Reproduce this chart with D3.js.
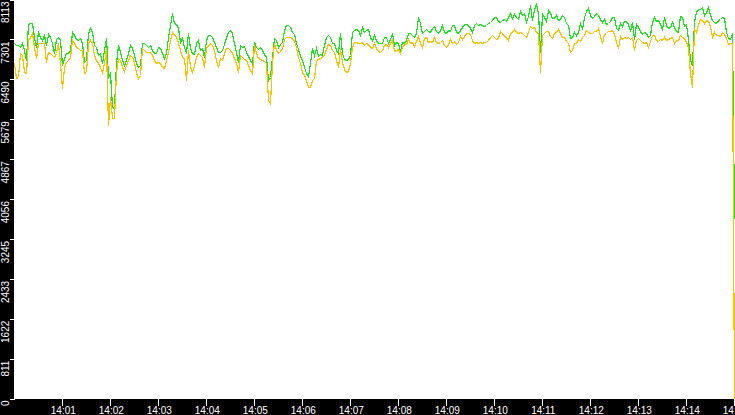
<!DOCTYPE html>
<html>
<head>
<meta charset="utf-8">
<script src="https://cdn.jsdelivr.net/npm/d3@7"></script>
<style>
  html, body { margin: 0; padding: 0; background: #000; }
  svg { display: block; }
</style>
</head>
<body>
<svg id="chart" width="735" height="415"></svg>
<script>
// one sample every 2.5 seconds starting at 14:00:00
const startTime = "14:00:00"
const stepMs = 2500

const yTicks = [0, 811, 1622, 2433, 3245, 4056, 4867, 5679, 6490, 7301, 8113]
const xTickLabels = ["14:01", "14:02", "14:03", "14:04", "14:05", "14:06", "14:07", "14:08",
  "14:09", "14:10", "14:11", "14:12", "14:13", "14:14", "14:15"]

// green (top) series
const greenValues = [
  7222, 7188, 7188, 7154, 7222, 7086, 6883, 7615, 7628, 7628,
  7357, 7154, 7459, 7357, 7289, 7391, 7188, 7411, 7357, 7222,
  7018, 7303, 7357, 7289, 6781, 6917, 7018, 7032, 7086, 7459,
  7391, 7310, 7289, 7323, 7222, 6849, 6883, 7439, 7527, 7459,
  7188, 7154, 6984, 7018, 6815, 7086, 7323, 6544, 6611, 5933,
  5900, 6815, 7188, 7052, 6883, 6781, 6883, 7018, 7188, 7120,
  6984, 6815, 6747, 6781, 7222, 7222, 7188, 7154, 7188, 7086,
  7018, 7018, 7154, 7120, 7018, 6917, 7018, 7357, 7594, 7832,
  7628, 7615, 7527, 7256, 7323, 7154, 7018, 7425, 7120, 7018,
  7005, 7222, 7289, 7086, 7120, 6950, 7289, 7391, 7391, 7357,
  7256, 7154, 7052, 7052, 7086, 7201, 7357, 7459, 7493, 7425,
  7222, 7052, 6849, 7181, 7154, 7174, 7052, 6964, 6883, 6815,
  7256, 7154, 7100, 7140, 7086, 7005, 6950, 6476, 6544, 6950,
  7323, 7289, 7154, 7208, 7256, 7493, 7594, 7594, 7547, 7459,
  7411, 7235, 7100, 6964, 6883, 6733, 6625, 6557, 6815, 7120,
  6984, 7120, 6964, 7005, 6984, 7188, 7357, 7391, 7344, 7222,
  7235, 7086, 7018, 7425, 7018, 6903, 6883, 6896, 6984, 7459,
  7493, 7506, 7493, 7391, 7561, 7459, 7493, 7506, 7357, 7289,
  7391, 7289, 7235, 7222, 7222, 7357, 7357, 7235, 7303, 7425,
  7188, 7256, 7235, 7052, 7256, 7235, 7289, 7425, 7425, 7391,
  7357, 7425, 7764, 7628, 7425, 7466, 7506, 7479, 7459, 7527,
  7574, 7466, 7439, 7493, 7594, 7452, 7439, 7493, 7479, 7594,
  7594, 7459, 7425, 7493, 7561, 7615, 7615, 7588, 7533, 7459,
  7594, 7642, 7594, 7622, 7594, 7567, 7601, 7628, 7656, 7696,
  7764, 7764, 7683, 7649, 7696, 7717, 7683, 7764, 7845, 7730,
  7818, 7750, 7710, 7886, 7798, 7832, 7662, 7778, 8001, 7696,
  7900, 8035, 7832, 7052, 7818, 7750, 7683, 7900, 7832, 7730,
  7730, 7798, 7696, 7710, 7798, 7764, 7642, 7594, 7323, 7357,
  7459, 7391, 7459, 7642, 7506, 7764, 7886, 7934, 7798, 7730,
  7778, 7832, 7798, 7710, 7662, 7710, 7615, 7642, 7683, 7764,
  7764, 7527, 7493, 7642, 7574, 7669, 7683, 7615, 7479, 7662,
  7303, 7615, 7561, 7472, 7405, 7452, 7425, 7357, 7391, 7662,
  7750, 7683, 7696, 7608, 7506, 7764, 7594, 7527, 7547, 7662,
  7561, 7466, 7459, 7778, 7764, 7574, 7615, 7303, 6883, 6781,
  7662, 7866, 7913, 7913, 7954, 7805, 7866, 7954, 7798, 7696,
  7662, 7628, 7696, 7710, 7764, 7744, 7459, 7323, 7303, 7425,
  3660
]

// orange (bottom) series
const orangeValues = [
  6815, 6510, 6544, 7018, 6984, 6645, 6611, 7289, 7357, 7425,
  7154, 6917, 7222, 7222, 7222, 7222, 6849, 7052, 7018, 6984,
  6950, 7018, 7222, 6815, 6306, 6747, 6849, 6883, 6950, 7289,
  7222, 7140, 7120, 7086, 7086, 6611, 6645, 7222, 7289, 7222,
  6984, 6883, 6815, 6747, 6611, 6815, 7120, 5560, 6137, 5696,
  5696, 6645, 6917, 6883, 6747, 6666, 6781, 6883, 6984, 6950,
  6849, 6611, 6510, 6578, 7120, 7086, 7052, 7052, 7052, 6984,
  6883, 6815, 6849, 6815, 6747, 6713, 6883, 7052, 7289, 7459,
  7391, 7371, 7222, 7086, 6950, 6917, 6476, 7086, 6747, 6645,
  6781, 6950, 7018, 6984, 6950, 6747, 7154, 7167, 7222, 7188,
  7086, 6883, 6747, 6917, 6883, 7032, 7120, 7120, 7086, 7018,
  6917, 6815, 6645, 6984, 6950, 6903, 6883, 6781, 6679, 6611,
  7188, 7018, 6917, 6896, 6883, 6869, 6815, 6069, 6001, 6815,
  7222, 7086, 7018, 7072, 7120, 7303, 7344, 7344, 7357, 7323,
  7276, 7140, 6937, 6815, 6645, 6571, 6476, 6340, 6340, 6476,
  6510, 6883, 6903, 6917, 6950, 7005, 7100, 7201, 7188, 7086,
  7052, 6883, 6747, 7113, 6849, 6706, 6645, 6652, 6815, 7154,
  7256, 7256, 7235, 7235, 7256, 7188, 7222, 7208, 7154, 7120,
  7222, 7120, 7072, 7052, 7086, 7188, 7208, 7154, 7235, 7289,
  7072, 7086, 7100, 7018, 7154, 7208, 7208, 7303, 7235, 7256,
  7167, 7276, 7371, 7235, 7154, 7330, 7344, 7256, 7276, 7256,
  7357, 7249, 7222, 7256, 7289, 7181, 7154, 7208, 7303, 7222,
  7276, 7208, 7256, 7371, 7303, 7371, 7425, 7439, 7411, 7289,
  7222, 7256, 7235, 7249, 7222, 7256, 7256, 7289, 7344, 7391,
  7357, 7303, 7323, 7479, 7425, 7378, 7344, 7289, 7425, 7459,
  7520, 7459, 7439, 7452, 7425, 7384, 7344, 7459, 7574, 7527,
  7547, 7459, 7425, 6645, 7391, 7439, 7479, 7479, 7371, 7323,
  7425, 7459, 7506, 7425, 7357, 7357, 7276, 7235, 7052, 7086,
  7222, 7235, 7303, 7276, 7357, 7398, 7493, 7459, 7425, 7425,
  7479, 7479, 7527, 7371, 7222, 7405, 7439, 7479, 7472, 7493,
  7411, 7256, 7120, 7371, 7303, 7344, 7323, 7344, 7303, 7357,
  7086, 7289, 7337, 7296, 7256, 7235, 7256, 7154, 7276, 7391,
  7391, 7289, 7276, 7317, 7289, 7344, 7289, 7303, 7337, 7357,
  7235, 7289, 7289, 7384, 7357, 7330, 7256, 7154, 6611, 6340,
  7506, 7459, 7615, 7710, 7696, 7642, 7696, 7683, 7574, 7357,
  7452, 7391, 7391, 7371, 7452, 7405, 7323, 7208, 7222, 7222,
  0
]

const width = 735
const height = 415

const parseTime = d3.timeParse("%H:%M:%S")
const parseMinute = d3.timeParse("%H:%M")
const t0 = parseTime(startTime)
const times = greenValues.map((d, i) => new Date(t0.getTime() + i * stepMs))

const xScale = d3.scaleTime()
  .domain([t0, d3.timeMinute.offset(t0, 15)])
  .range([14.3, 734.3])

const yScale = d3.scaleLinear()
  .domain([0, 8113])
  .range([398.5, -0.5])

// snap to pixel centres so the 1px lines stay sharp
const px = v => Math.round(v) + 0.5

const svg = d3.select("#chart")

// black frame + white plot area
svg.append("rect")
  .attr("width", width)
  .attr("height", height)
  .attr("fill", "#000")

svg.append("rect")
  .attr("x", 14)
  .attr("y", 0)
  .attr("width", width - 14)
  .attr("height", 399)
  .attr("fill", "#fff")

// LINES
const line = d3.line()
  .x((d, i) => px(xScale(times[i])))
  .y(d => px(yScale(d)))

svg.append("path")
  .datum(greenValues)
  .attr("d", line)
  .attr("fill", "none")
  .attr("stroke", "#19e619")
  .attr("stroke-width", 1.2)
  .attr("shape-rendering", "crispEdges")

svg.append("path")
  .datum(orangeValues)
  .attr("d", line)
  .attr("fill", "none")
  .attr("stroke", "#ffc000")
  .attr("stroke-width", 1.2)
  .attr("shape-rendering", "crispEdges")

// Y AXIS
const yAxis = svg.append("g")

yAxis.selectAll("line")
  .data(yTicks)
  .join("line")
  .attr("x1", 10)
  .attr("x2", 15)
  .attr("y1", d => px(yScale(d)))
  .attr("y2", d => px(yScale(d)))
  .attr("stroke", "#fff")
  .attr("shape-rendering", "crispEdges")

yAxis.selectAll("text")
  .data(yTicks)
  .join("text")
  .attr("transform", d => `translate(8.5, ${yScale(d) + 2}) rotate(-90)`)
  .attr("text-anchor", "end")
  .attr("font-family", "Liberation Sans, Arial, sans-serif")
  .attr("font-size", "10px")
  .attr("fill", "#fff")
  .text(d => d)

// X AXIS
const xTicks = xTickLabels.map(d => parseMinute(d))
const xAxis = svg.append("g")

xAxis.selectAll("line")
  .data(xTicks)
  .join("line")
  .attr("x1", d => px(xScale(d)))
  .attr("x2", d => px(xScale(d)))
  .attr("y1", 399)
  .attr("y2", 406)
  .attr("stroke", "#fff")
  .attr("shape-rendering", "crispEdges")

xAxis.selectAll("text")
  .data(xTicks)
  .join("text")
  .attr("x", d => xScale(d) + 1)
  .attr("y", 413.5)
  .attr("text-anchor", "middle")
  .attr("font-family", "Liberation Sans, Arial, sans-serif")
  .attr("font-size", "10px")
  .attr("fill", "#fff")
  .text(d => d3.timeFormat("%H:%M")(d))
</script>
</body>
</html>
